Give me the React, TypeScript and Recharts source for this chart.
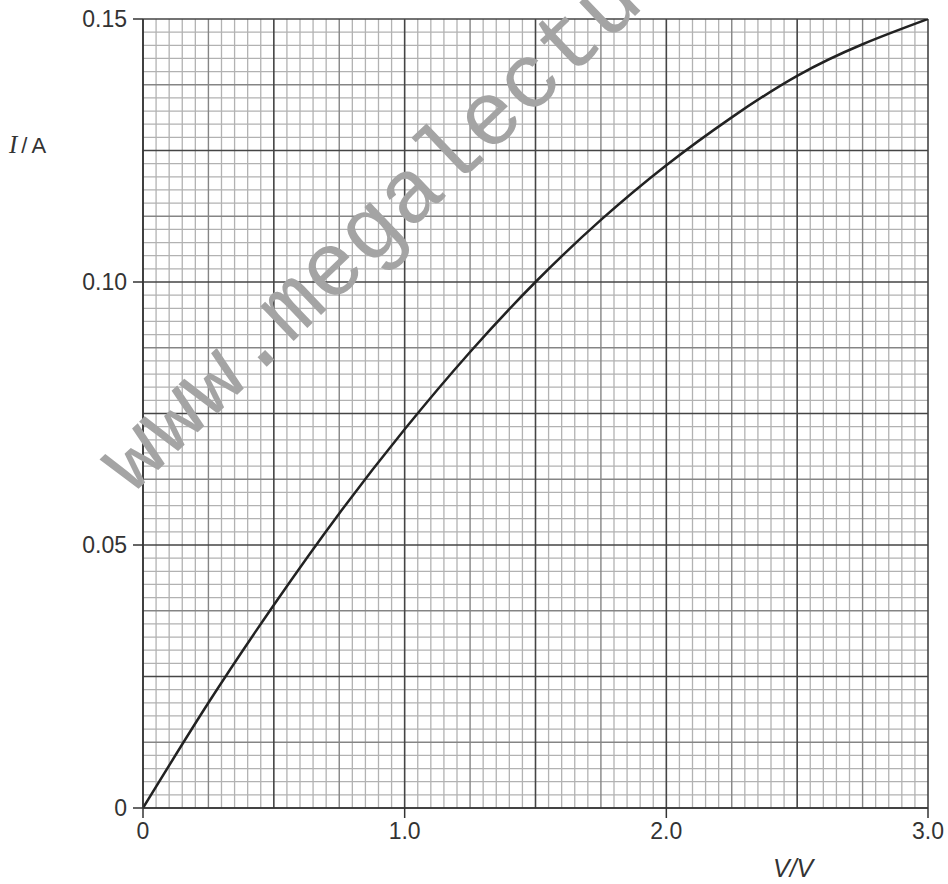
import React from 'react';
import { LineChart, Line, XAxis, YAxis, ReferenceLine } from 'recharts';

// I–V characteristic
const voltage = [0, 0.25, 0.5, 0.75, 1.0, 1.25, 1.5, 1.75, 2.0, 2.25, 2.5, 2.75, 3.0];
const current = [0, 0.02, 0.0386, 0.056, 0.072, 0.0867, 0.1, 0.1118, 0.1222, 0.1313, 0.1392, 0.1452, 0.15];

const xTicks = [0, 1, 2, 3];
const yTicks = [0, 0.05, 0.1, 0.15];

// graph-paper rulings
const xMinorStep = 0.05;
const xMediumStep = 0.25;
const xMajorStep = 0.5;
const yMinorStep = 0.0025;
const yMediumStep = 0.0125;
const yMajorStep = 0.025;

const ruling = (max: number, step: number, skip: number | null) => {
  const n = Math.round(max / step);
  const out: number[] = [];
  for (let k = 0; k <= n; k++) {
    const v = Math.round(k * step * 100000) / 100000;
    if (skip !== null) {
      const r = v / skip;
      if (Math.abs(r - Math.round(r)) < 1e-6) continue;
    }
    out.push(v);
  }
  return out;
};

const xMinor = ruling(3, xMinorStep, xMediumStep);
const xMedium = ruling(3, xMediumStep, xMajorStep);
const xMajor = ruling(3, xMajorStep, null);
const yMinor = ruling(0.15, yMinorStep, yMediumStep);
const yMedium = ruling(0.15, yMediumStep, yMajorStep);
const yMajor = ruling(0.15, yMajorStep, null);

const data = voltage.map((v, i) => ({ V: v, I: current[i] }));

const MINOR = '#b2b2b2';
const MEDIUM = '#858585';
const MAJOR = '#454545';

export default function App() {
  return (
    <div style={{ position: 'absolute', left: 0, top: 0, width: 948, height: 884, background: '#fff' }}>
      <LineChart
        width={948}
        height={884}
        data={data}
        margin={{ top: 19, right: 20, bottom: 46, left: 83 }}
      >
        <XAxis
          dataKey="V"
          type="number"
          domain={[0, 3]}
          ticks={xTicks}
          tickFormatter={(v: number) => (v === 0 ? '0' : v.toFixed(1))}
          height={30}
          tickSize={10}
          tickMargin={5}
          stroke="#333"
          strokeWidth={1.5}
          tick={{ fill: '#333', fontSize: 23, fontFamily: 'Liberation Sans' }}
          allowDataOverflow
        />
        <YAxis
          dataKey="I"
          type="number"
          domain={[0, 0.15]}
          ticks={yTicks}
          tickFormatter={(v: number) => (v === 0 ? '0' : v.toFixed(2))}
          width={60}
          tickSize={10}
          tickMargin={6}
          stroke="#333"
          strokeWidth={1.5}
          tick={{ fill: '#333', fontSize: 23, fontFamily: 'Liberation Sans' }}
          allowDataOverflow
        />
        {xMinor.map((v) => (
          <ReferenceLine key={'xm' + v} x={v} stroke={MINOR} strokeWidth={1.3} ifOverflow="extendDomain" />
        ))}
        {yMinor.map((v) => (
          <ReferenceLine key={'ym' + v} y={v} stroke={MINOR} strokeWidth={1.3} ifOverflow="extendDomain" />
        ))}
        {xMedium.map((v) => (
          <ReferenceLine key={'xd' + v} x={v} stroke={MEDIUM} strokeWidth={1.4} ifOverflow="extendDomain" />
        ))}
        {yMedium.map((v) => (
          <ReferenceLine key={'yd' + v} y={v} stroke={MEDIUM} strokeWidth={1.4} ifOverflow="extendDomain" />
        ))}
        {xMajor.map((v) => (
          <ReferenceLine key={'xj' + v} x={v} stroke={MAJOR} strokeWidth={1.6} ifOverflow="extendDomain" />
        ))}
        {yMajor.map((v) => (
          <ReferenceLine key={'yj' + v} y={v} stroke={MAJOR} strokeWidth={1.6} ifOverflow="extendDomain" />
        ))}
        <Line
          dataKey="I"
          type="natural"
          stroke="#222"
          strokeWidth={2.5}
          dot={false}
          isAnimationActive={false}
        />
      </LineChart>
      <svg
        width={948}
        height={884}
        style={{ position: 'absolute', left: 0, top: 0, pointerEvents: 'none' }}
      >
        <text
          x={132}
          y={495}
          transform="rotate(-43.6 132 495)"
          fontFamily="Liberation Mono"
          fontSize={91}
          fill="#a4a4a4"
        >
          www.megalecture.com
        </text>
        <text x={9} y={153} fontSize={22} fill="#333" fontFamily="Liberation Sans">
          <tspan fontFamily="Liberation Serif" fontStyle="italic" fontSize={25}>I</tspan>
          <tspan dx={4}>/</tspan>
          <tspan dx={4}>A</tspan>
        </text>
        <text x={773} y={877} fontSize={25} fill="#333" fontFamily="Liberation Sans" fontStyle="italic">
          V/V
        </text>
      </svg>
    </div>
  );
}
